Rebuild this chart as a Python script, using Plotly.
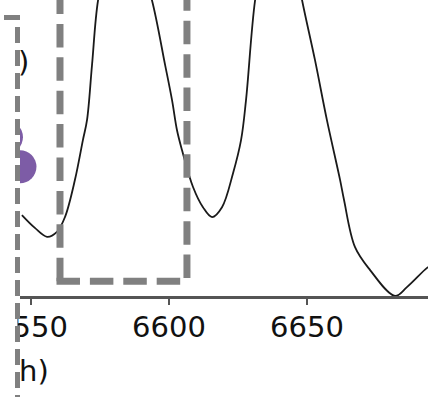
import plotly.graph_objects as go

# Smoothed spectrum around the H-alpha / [N II] complex
wavelength = [6546.7, 6551.4, 6555.8, 6559.4, 6562.3, 6565.9, 6568.8, 6570.3, 6572.1, 6574.3,
              6578.6, 6582.0, 6587.8,
              6593.8, 6598.6, 6601.1, 6602.9, 6604.7, 6608.7, 6612.3, 6615.6, 6619.2, 6623.2,
              6626.1, 6627.9, 6631.2,
              6634.8, 6639.4, 6644.6,
              6648.2, 6652.9, 6657.2, 6662.0, 6663.4, 6667.4, 6672.8, 6681.9, 6686.2, 6693.5, 6695.0]
flux = [1.164, 1.138, 1.120, 1.130, 1.160, 1.235, 1.316, 1.357, 1.468, 1.600,
        1.710, 1.760, 1.710,
        1.600, 1.468, 1.397, 1.336, 1.296, 1.221, 1.180, 1.160, 1.180, 1.249,
        1.316, 1.397, 1.600,
        1.710, 1.765, 1.710,
        1.600, 1.478, 1.357, 1.235, 1.195, 1.099, 1.053, 1.000, 1.018, 1.057, 1.062]

# Highlighted sample points
point_wavelength = [6541.1, 6546.0]
point_flux = [1.322, 1.262]

# Window around the feature of interest
window_lo, window_hi = 6560.5, 6606.5
window_floor = 1.030

tick_values = [6550, 6600, 6650]
x_range = [6546.01, 6693.84]
y_range = [1.0, 1.6]

W, H = 428, 397
plot_left = 20     # pixel column where the axes begin
plot_bottom = 296  # pixel row of the x axis
gray = "#808080"
font = dict(family="DejaVu Sans", size=29, color="#111111")

fig = go.Figure()
fig.add_trace(go.Scatter(
    x=wavelength, y=flux, mode="lines",
    line=dict(color="#1a1a1a", width=1.8, shape="spline", smoothing=1.0),
    showlegend=False, hoverinfo="skip",
))
fig.add_trace(go.Scatter(
    x=point_wavelength, y=point_flux, mode="markers",
    marker=dict(size=33, color="#7d5ca6", line=dict(width=0)),
    showlegend=False, cliponaxis=True,
))

px_per_unit = (W - plot_left) / (x_range[1] - x_range[0])
lead = 3.5 / px_per_unit  # start the bottom edge at the outer side of the corner
dash_thick = "23.5px,9.9px"
shapes = [
    # dashed window: bottom + right edge, then left edge
    dict(type="path", xref="x", yref="y", layer="above",
         path=f"M {window_lo - lead},{window_floor} H {window_hi} V 1.9",
         line=dict(color=gray, width=7, dash=dash_thick)),
    dict(type="path", xref="x", yref="y", layer="above",
         path=f"M {window_lo},{window_floor} V 1.9",
         line=dict(color=gray, width=7, dash=dash_thick)),
]

# white inset panel on the left with a dashed border
def px_x(p):
    return (p - plot_left) / (W - plot_left)

def px_y(p):
    return (plot_bottom - p) / plot_bottom

edge = 17.5
shapes.append(dict(type="rect", xref="paper", yref="paper", layer="above",
                   x0=px_x(-60), x1=px_x(edge), y0=px_y(H + 60), y1=px_y(edge),
                   fillcolor="white", line=dict(width=0)))
shapes.append(dict(type="path", xref="paper", yref="paper", layer="above",
                   path=f"M {px_x(-19)},{px_y(edge)} H {px_x(edge)} V {px_y(H + 60)}",
                   line=dict(color=gray, width=5, dash="16px,7px")))

annotations = [
    dict(text=")", xref="paper", yref="paper", x=px_x(23.5), y=px_y(62),
         xanchor="center", yanchor="middle", showarrow=False, font=font),
    dict(text="h)", xref="paper", yref="paper", x=px_x(34), y=px_y(371),
         xanchor="center", yanchor="middle", showarrow=False, font=font),
]

fig.update_layout(
    width=W, height=H,
    margin=dict(l=plot_left, r=0, t=0, b=H - plot_bottom, pad=0, autoexpand=False),
    paper_bgcolor="white", plot_bgcolor="white",
    shapes=shapes, annotations=annotations,
    xaxis=dict(range=x_range, tickvals=tick_values, ticks="outside", ticklen=6,
               tickwidth=2, tickcolor="#555555", showline=True, linecolor="#555555",
               linewidth=2.5, showgrid=False, zeroline=False, tickfont=font,
               ticklabeloverflow="allow", ticklabelstandoff=-3, automargin=False),
    yaxis=dict(range=y_range, visible=False, showgrid=False, zeroline=False,
               automargin=False),
)

fig.write_html("out.html")
